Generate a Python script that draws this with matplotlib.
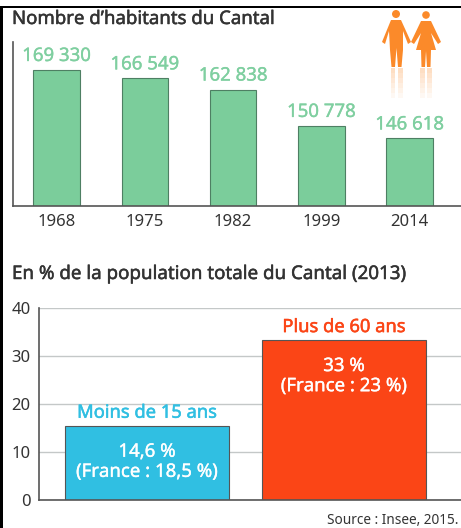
import matplotlib
matplotlib.use("Agg")
import matplotlib.pyplot as plt
import matplotlib.patheffects as pe
from matplotlib.patches import Circle, Polygon, Rectangle

plt.rcParams["font.family"] = ["Noto Sans", "DejaVu Sans"]

W, H = 461, 528

years = ["1968", "1975", "1982", "1999", "2014"]
habitants = [169330, 166549, 162838, 150778, 146618]
habitants_labels = ["169 330", "166 549", "162 838", "150 778", "146 618"]

ages = ["Moins de 15 ans", "Plus de 60 ans"]
age_heights = [15.4, 33.3]
age_labels = ["14,6 %\n(France : 18,5 %)", "33 %\n(France : 23 %)"]
age_ticks = [0, 10, 20, 30, 40]

green = "#7bcd9b"
green_text = "#7fcfa0"
blue = "#30bfe2"
red = "#fb4516"
orange = "#fb8a2a"
dark = "#333333"
grid = "#c4c8c8"


def px_axes(fig, x0, y0, x1, y1):
    # pixel box, y counted from the top of the picture
    return fig.add_axes([x0 / W, 1 - y1 / H, (x1 - x0) / W, (y1 - y0) / H])


def thick(color, w=0.35):
    # the reference lettering is a bit heavier than regular
    return [pe.withStroke(linewidth=w, foreground=color)]


fig = plt.figure(figsize=(W / 100, H / 100), dpi=100)

# top chart
ax1 = px_axes(fig, 13, 42, 461, 206)
ax1.bar(range(5), habitants, width=0.527, color=green, edgecolor="#4e7f63", linewidth=0.8)
ax1.set_xlim(-0.493, 4.583)
ax1.set_ylim(124230, 178612)
ax1.set_yticks([])
ax1.set_xticks(range(5))
ax1.set_xticklabels(years, fontsize=12, color=dark)
ax1.tick_params(axis="x", length=0, pad=6)
for s in ["top", "right"]:
    ax1.spines[s].set_visible(False)
for s in ["left", "bottom"]:
    ax1.spines[s].set_color("#555555")
    ax1.spines[s].set_linewidth(1.2)
for i, v in enumerate(habitants):
    ax1.annotate(habitants_labels[i], (i, v), xytext=(0, 5), textcoords="offset pixels",
                 ha="center", va="bottom", fontsize=13.4, color=green_text,
                 path_effects=thick(green_text, 0.25))

# bottom chart
ax2 = px_axes(fig, 39, 308, 461, 499.5)
ax2.set_axisbelow(True)
ax2.yaxis.grid(True, color=grid, linewidth=1)
ax2.bar([0, 1], age_heights, width=0.832, color=[blue, red], edgecolor="#555555", linewidth=0.8)
ax2.set_xlim(-0.548, 1.594)
ax2.set_ylim(0, 40)
ax2.set_xticks([])
ax2.set_yticks(age_ticks)
ax2.set_yticklabels(age_ticks, fontsize=12, color=dark)
ax2.tick_params(axis="y", length=0, pad=6)
for s in ["top", "right"]:
    ax2.spines[s].set_visible(False)
for s in ["left", "bottom"]:
    ax2.spines[s].set_color("#555555")
    ax2.spines[s].set_linewidth(1.2)
for i, h in enumerate(age_heights):
    c = [blue, red][i]
    ax2.annotate(ages[i], (i, h), xytext=(0, 4), textcoords="offset pixels", ha="center",
                 va="bottom", fontsize=13.2, color=c, path_effects=thick(c))
    ax2.annotate(age_labels[i], (i, h), xytext=(0, -17), textcoords="offset pixels", ha="center",
                 va="top", fontsize=13.4, color="white", linespacing=1.15,
                 path_effects=thick("white", 0.25))

# overlay in pixel coordinates for titles, frame and the couple
ov = fig.add_axes([0, 0, 1, 1], zorder=5)
ov.set_xlim(0, W)
ov.set_ylim(H, 0)
ov.axis("off")
ov.add_patch(Rectangle((0, 6), W, 2.2, color="black", lw=0))
ov.add_patch(Rectangle((0, 6), 2.6, H - 6, color="black", lw=0))
ov.text(12, 19, "Nombre d’habitants du Cantal", fontsize=13.4, color=dark, va="center",
        path_effects=thick(dark))
ov.text(12, 274, "En % de la population totale du Cantal (2013)", fontsize=13.5, color=dark,
        va="center", path_effects=thick(dark))
ov.text(458, 520, "Source : Insee, 2015.", fontsize=9.8, color=dark, ha="right", va="center")

# man
ov.add_patch(Circle((396, 14), 4, color=orange, lw=0))
ov.add_patch(Polygon([(391, 20), (401, 20), (411, 42), (408, 44), (403, 31), (403, 50), (401.5, 67),
                      (398, 67), (396.5, 48), (395, 67), (391.5, 67), (390, 50), (389, 31), (385, 44),
                      (382, 42)], color=orange, lw=0))
# woman
ov.add_patch(Circle((426, 15), 3.8, color=orange, lw=0))
ov.add_patch(Polygon([(421, 21), (431, 21), (441, 42), (438, 44), (431, 33), (436, 50), (431, 50),
                      (430.5, 67), (427, 67), (426, 51), (425, 67), (421.5, 67), (421, 50), (416, 50),
                      (421, 33), (414, 44), (411, 42)], color=orange, lw=0))
# reflections
for k in range(6):
    a = 0.28 - k * 0.045
    y = 68 + k * 5
    for x0, x1 in [(390.5, 395), (398, 402.5), (420, 425), (427, 432)]:
        ov.add_patch(Rectangle((x0, y), x1 - x0, 5, color=orange, alpha=a, lw=0))

fig.savefig("out.png", dpi=100)
